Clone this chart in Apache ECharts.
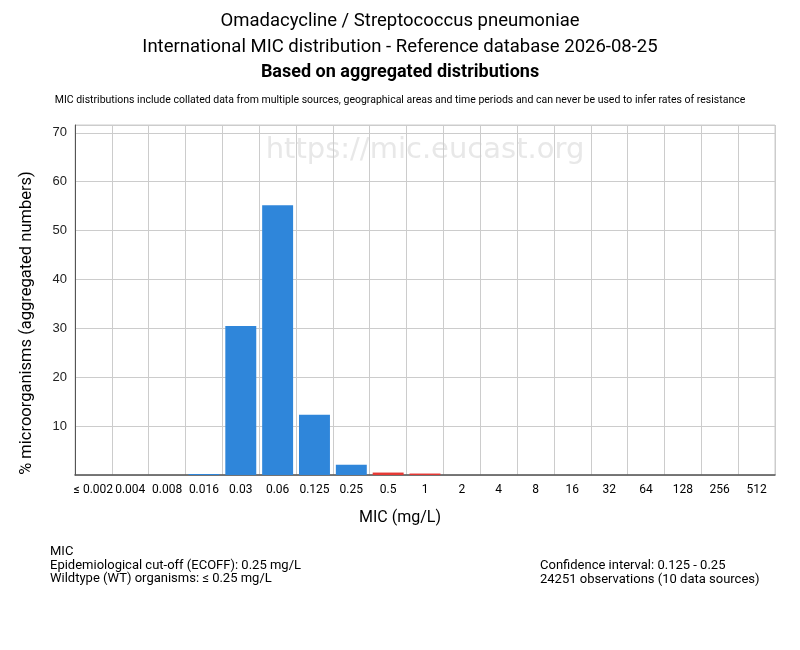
<!DOCTYPE html>
<html>
<head>
<meta charset="utf-8">
<script src="https://cdn.jsdelivr.net/npm/echarts@6/dist/echarts.min.js"></script>
<style>
  html, body { margin: 0; padding: 0; background: #fff; }
  #mic_chart { width: 800px; height: 650px; }
</style>
</head>
<body>
<div id="mic_chart"></div>
<script>
// MIC classes (mg/L) and % of organisms in each
var micLabels = ['≤ 0.002', '0.004', '0.008', '0.016', '0.03', '0.06', '0.125', '0.25', '0.5', '1', '2', '4', '8', '16', '32', '64', '128', '256', '512'];
var percentValues = [0, 0, 0, 0.2, 30.5, 55.2, 12.3, 2.1, 0.5, 0.3, 0, 0, 0, 0, 0, 0, 0, 0, 0];
var ecoffLabel = '0.25';
var yTicks = [0, 10, 20, 30, 40, 50, 60, 70];

var titleLines = [
    'Omadacycline / Streptococcus pneumoniae',
    'International MIC distribution - Reference database 2026-08-25',
    'Based on aggregated distributions'
];
var noteText = 'MIC distributions include collated data from multiple sources, geographical areas and time periods and can never be used to infer rates of resistance';
var leftInfo = ['MIC', 'Epidemiological cut-off (ECOFF): 0.25 mg/L', 'Wildtype (WT) organisms: ≤ 0.25 mg/L'];
var rightInfo = ['Confidence interval: 0.125 - 0.25', '24251 observations (10 data sources)'];

var FONT = 'Roboto, "Liberation Sans", sans-serif';
var BLUE = '#2f86da';
var RED = '#e53935';

var dom = document.getElementById('mic_chart');
var myChart = echarts.init(dom);

var ecoffIdx = micLabels.indexOf(ecoffLabel);
var barData = percentValues.map(function (v, i) {
    return { value: v, itemStyle: { color: i > ecoffIdx ? RED : BLUE } };
});

var option = {
    backgroundColor: '#fff',
    animation: false,
    title: [
        { text: titleLines[0], left: 'center', top: 7, textStyle: { fontFamily: FONT, fontSize: 18.5, fontWeight: 'normal', color: '#000' } },
        { text: titleLines[1], left: 'center', top: 33, textStyle: { fontFamily: FONT, fontSize: 18.5, fontWeight: 'normal', color: '#000' } },
        { text: titleLines[2], left: 'center', top: 58, textStyle: { fontFamily: FONT, fontSize: 18, fontWeight: 'bold', color: '#000' } },
        { text: noteText, left: 'center', top: 90, textStyle: { fontFamily: FONT, fontSize: 10.5, fontWeight: 'normal', color: '#000' } }
    ],
    grid: {
        left: 75,
        right: 25,
        top: 125,
        bottom: 175,
        show: true,
        borderColor: '#cccccc',
        borderWidth: 1
    },
    graphic: [
        {
            type: 'text', x: 425, y: 150, z: 0,
            style: { text: 'https://mic.eucast.org', fill: '#e8e8e8', font: '29px "DejaVu Sans", sans-serif', align: 'center', verticalAlign: 'middle' }
        },
        {
            type: 'text', rotation: Math.PI / 2, x: 27, y: 323,
            style: { text: '% microorganisms (aggregated numbers)', fill: '#000', font: '16.5px ' + FONT, align: 'center', verticalAlign: 'middle' }
        },
        {
            type: 'text', x: 400, y: 518,
            style: { text: 'MIC (mg/L)', fill: '#000', font: '16px ' + FONT, align: 'center', verticalAlign: 'middle' }
        },
        {
            type: 'text', x: 50, y: 545,
            style: { text: leftInfo.join('\n'), fill: '#000', font: '13px ' + FONT, lineHeight: 13.5 }
        },
        {
            type: 'text', x: 540, y: 559,
            style: { text: rightInfo.join('\n'), fill: '#000', font: '13px ' + FONT, lineHeight: 13.5 }
        }
    ],
    xAxis: {
        type: 'category',
        data: micLabels,
        axisTick: { show: false },
        axisLine: { lineStyle: { color: '#555', width: 1.5 } },
        axisLabel: { interval: 0, color: '#000', fontFamily: FONT, fontSize: 12, margin: 9 },
        splitLine: { show: true, interval: 0, lineStyle: { color: '#cccccc' } }
    },
    yAxis: {
        type: 'value',
        min: 0,
        max: 71.6,
        interval: 10,
        axisLine: { show: true, lineStyle: { color: '#555' } },
        axisTick: { show: false },
        axisLabel: {
            color: '#222', fontFamily: '"Liberation Sans", Arial, sans-serif', fontSize: 13, margin: 8,
            showMaxLabel: false,
            formatter: function (v) { return yTicks.indexOf(v) >= 0 && v !== 0 ? String(v) : ''; }
        },
        splitLine: { lineStyle: { color: '#cccccc' } }
    },
    series: [{
        type: 'bar',
        data: barData,
        barCategoryGap: '16%'
    }]
};

myChart.setOption(option);
</script>
</body>
</html>
